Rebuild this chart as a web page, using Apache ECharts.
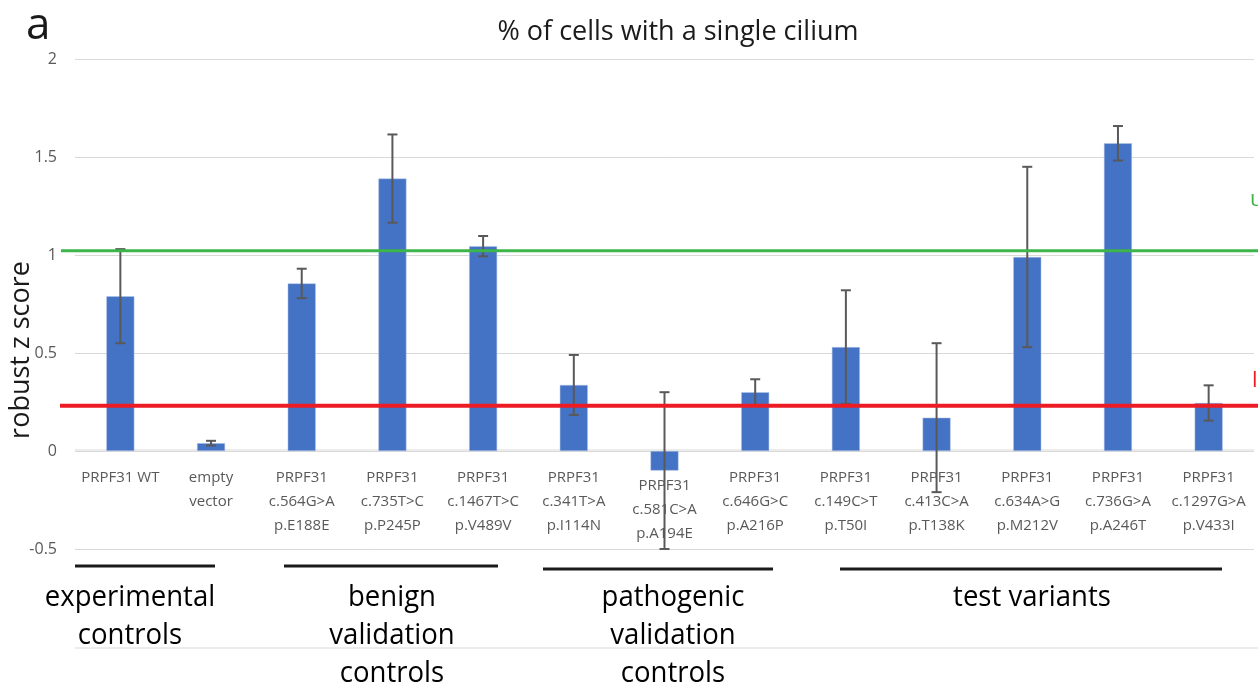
<!DOCTYPE html>
<html>
<head>
<meta charset="utf-8">
<script src="https://cdn.jsdelivr.net/npm/echarts@6/dist/echarts.min.js"></script>
<style>
  html, body { margin: 0; padding: 0; background: #fff; }
  #chart { width: 1258px; height: 689px; }
</style>
</head>
<body>
<div id="chart"></div>
<script>
const categories = [
  'PRPF31 WT', 'empty\nvector',
  'PRPF31\nc.564G>A\np.E188E', 'PRPF31\nc.735T>C\np.P245P', 'PRPF31\nc.1467T>C\np.V489V',
  'PRPF31\nc.341T>A\np.I114N', 'PRPF31\nc.581C>A\np.A194E', 'PRPF31\nc.646G>C\np.A216P',
  'PRPF31\nc.149C>T\np.T50I', 'PRPF31\nc.413C>A\np.T138K', 'PRPF31\nc.634A>G\np.M212V',
  'PRPF31\nc.736G>A\np.A246T', 'PRPF31\nc.1297G>A\np.V433I'
]
const zScores = [0.79, 0.04, 0.855, 1.39, 1.045, 0.337, -0.10, 0.30, 0.53, 0.17, 0.99, 1.57, 0.245]
const zErrors = [0.24, 0.012, 0.075, 0.225, 0.052, 0.153, 0.40, 0.066, 0.29, 0.38, 0.46, 0.088, 0.09]
const upperThreshold = 1.022
const lowerThreshold = 0.231
const groupNames = ['experimental\ncontrols', 'benign\nvalidation\ncontrols', 'pathogenic\nvalidation\ncontrols', 'test variants']

const chart = echarts.init(document.getElementById('chart'))

const labelFont = '"Open Sans", "Noto Sans", sans-serif'

const errorData = categories.map((c, i) => [i, zScores[i] + zErrors[i], zScores[i] - zErrors[i]])

// groups drawn by hand under the axis, as in the original figure
const groupLines = [[75, 215, 566], [284, 498, 566], [543, 773, 569], [840, 1222, 569]]
const groupCenters = [130, 392, 673, 1032]

const option = {
  animation: false,
  grid: { left: 75, right: 4, top: 59, bottom: 140, outerBoundsMode: 'none' },
  xAxis: {
    type: 'category',
    data: categories.map((c, i) => i === 6
      ? { value: c, textStyle: { padding: [8, 0, 0, 0] } }
      : c),
    axisLine: { show: false },
    axisTick: { show: false },
    axisLabel: {
      interval: 0,
      color: '#595959',
      fontFamily: labelFont,
      fontSize: 15,
      lineHeight: 24,
      // labels sit just under the zero line, inside the plot
      margin: -83
    }
  },
  yAxis: {
    type: 'value',
    min: -0.5,
    max: 2,
    interval: 0.5,
    axisLine: { show: false },
    axisTick: { show: false },
    axisLabel: { color: '#595959', fontFamily: labelFont, fontSize: 16, margin: 18 },
    splitLine: { lineStyle: { color: '#D9D9D9', width: 1 } }
  },
  series: [
    {
      type: 'bar',
      data: zScores,
      barWidth: 28,
      itemStyle: { color: '#4472C4', borderColor: '#B4C7E7', borderWidth: 0.5 }
    },
    {
      type: 'custom',
      data: errorData,
      encode: { x: 0, y: [1, 2] },
      z: 5,
      renderItem: function (params, api) {
        const hi = api.coord([api.value(0), api.value(1)])
        const lo = api.coord([api.value(0), api.value(2)])
        const half = 5
        const style = { stroke: '#595959', lineWidth: 2 }
        return {
          type: 'group',
          children: [
            { type: 'line', shape: { x1: hi[0], y1: hi[1], x2: lo[0], y2: lo[1] }, style },
            { type: 'line', shape: { x1: hi[0] - half, y1: hi[1], x2: hi[0] + half, y2: hi[1] }, style },
            { type: 'line', shape: { x1: lo[0] - half, y1: lo[1], x2: lo[0] + half, y2: lo[1] }, style }
          ]
        }
      }
    }
  ]
}

chart.setOption(option)

const yUp = chart.convertToPixel({ yAxisIndex: 0 }, upperThreshold)
const yLow = chart.convertToPixel({ yAxisIndex: 0 }, lowerThreshold)

const graphics = [
  { type: 'text', left: 26, top: 4, style: { text: 'a', fontSize: 44, fontFamily: labelFont, fill: '#1a1a1a' } },
  { type: 'text', x: 678, y: 32, style: { text: '% of cells with a single cilium', fontSize: 27, fontFamily: labelFont, fill: '#1a1a1a', align: 'center', verticalAlign: 'middle' } },
  { type: 'text', x: 21, y: 350, rotation: Math.PI / 2, style: { text: 'robust z score', fontSize: 27, fontFamily: labelFont, fill: '#1a1a1a', align: 'center', verticalAlign: 'middle' } },
  { type: 'line', z: 10, shape: { x1: 61, y1: yUp, x2: 1258, y2: yUp }, style: { stroke: '#3DB54A', lineWidth: 3 } },
  { type: 'line', z: 10, shape: { x1: 60, y1: yLow, x2: 1258, y2: yLow }, style: { stroke: '#ED1C24', lineWidth: 4 } },
  { type: 'text', x: 1250, y: 200, style: { text: 'u', fontSize: 22, fontFamily: labelFont, fill: '#3DB54A', verticalAlign: 'middle' } },
  { type: 'text', x: 1252, y: 381, style: { text: 'l', fontSize: 22, fontFamily: labelFont, fill: '#ED1C24', verticalAlign: 'middle' } },
  { type: 'line', shape: { x1: 75, y1: 450, x2: 1254, y2: 450 }, style: { stroke: '#D9D9D9', lineWidth: 1 } },
  { type: 'line', shape: { x1: 75, y1: 648, x2: 1258, y2: 648 }, style: { stroke: '#D9D9D9', lineWidth: 1 } }
]

groupLines.forEach(g => {
  graphics.push({ type: 'line', shape: { x1: g[0], y1: g[2], x2: g[1], y2: g[2] }, style: { stroke: '#1a1a1a', lineWidth: 3 } })
})
groupNames.forEach((name, i) => {
  graphics.push({
    type: 'text', x: groupCenters[i], y: 579, scaleX: 0.95,
    style: { text: name, fontSize: 29, lineHeight: 38, fontFamily: labelFont, fill: '#000', align: 'center', verticalAlign: 'top' }
  })
})

chart.setOption({ graphic: graphics })
</script>
</body>
</html>
